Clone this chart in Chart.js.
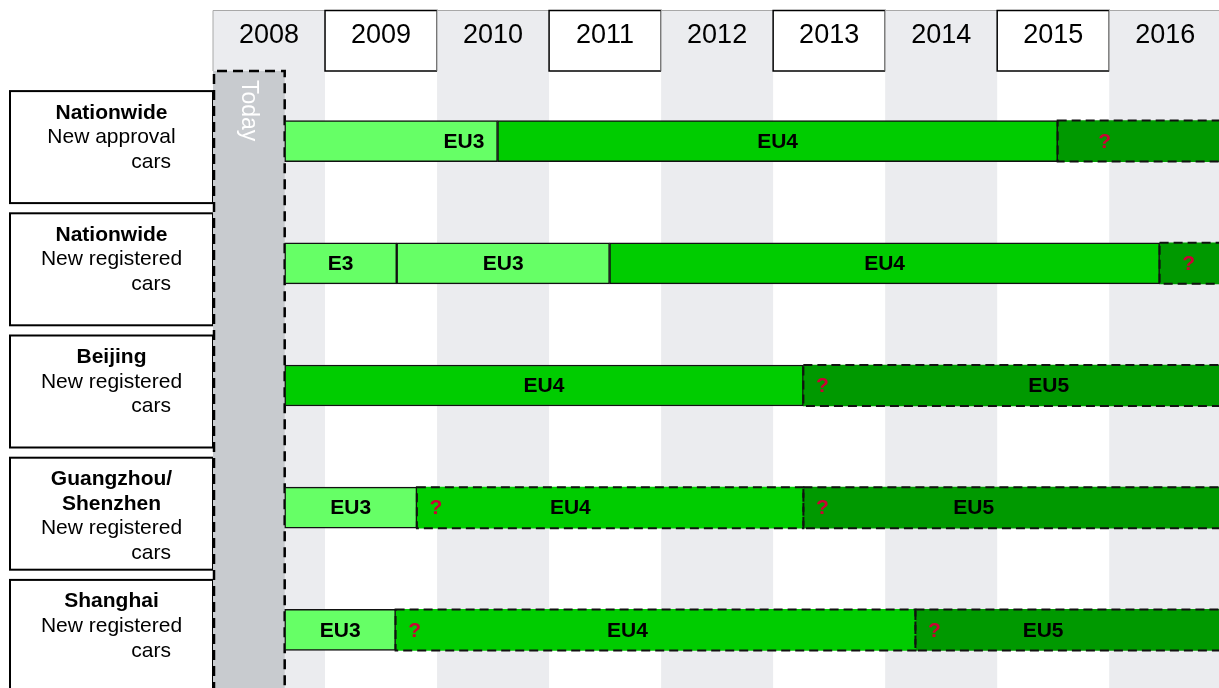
<!DOCTYPE html>
<html>
<head>
<meta charset="utf-8">
<title>Emission standards timeline</title>
<script src="https://cdn.jsdelivr.net/npm/chart.js@4.4.1/dist/chart.umd.min.js"></script>
<style>
  html, body { margin: 0; padding: 0; background: #fff; overflow: hidden; }
  canvas { display: block; }
</style>
</head>
<body>
<canvas id="timeline" width="1219" height="692"></canvas>
<script>
const years = ['2008', '2009', '2010', '2011', '2012', '2013', '2014', '2015', '2016']
const firstYear = 2008
const lastYear = 2016.98
const today = 2008.64

const rowTitles = [['Nationwide'], ['Nationwide'], ['Beijing'], ['Guangzhou/', 'Shenzhen'], ['Shanghai']]
const rowSubtitles = ['New approval', 'New registered', 'New registered', 'New registered', 'New registered']

// each phase = one segment per row: [start, end] in years
const phase1 = [[2008.64, 2010.54], [2008.64, 2009.64], [2008.64, 2013.27], [2008.64, 2009.82], [2008.64, 2009.63]]
const phase1Std = ['EU3', 'E3', 'EU4', 'EU3', 'EU3']
const phase1Open = [false, false, false, false, false]
const phase1At = [2010.24, null, null, null, null]

const phase2 = [[2010.54, 2015.54], [2009.64, 2011.54], [2013.27, 2017.7], [2009.82, 2013.27], [2009.63, 2014.27]]
const phase2Std = ['EU4', 'EU3', 'EU5', 'EU4', 'EU4']
const phase2Open = [false, false, true, true, true]
const phase2At = [null, null, 2015.46, 2011.19, 2011.70]

const phase3 = [[2015.54, 2017.7], [2011.54, 2016.45], null, [2013.27, 2017.7], [2014.27, 2017.7]]
const phase3Std = ['?', 'EU4', null, 'EU5', 'EU5']
const phase3Open = [true, false, false, true, true]
const phase3At = [2015.96, null, null, 2014.79, 2015.41]

const phase4 = [null, [2016.45, 2017.7], null, null, null]
const phase4Std = [null, '?', null, null, null]
const phase4Open = [false, true, false, false, false]
const phase4At = [null, 2016.71, null, null, null]

const phases = [
  { data: phase1, std: phase1Std, open: phase1Open, at: phase1At },
  { data: phase2, std: phase2Std, open: phase2Open, at: phase2At },
  { data: phase3, std: phase3Std, open: phase3Open, at: phase3At },
  { data: phase4, std: phase4Std, open: phase4Open, at: phase4At }
]

const FONT = '"Liberation Sans", Arial, sans-serif'
const STRIPE = '#ebecef'
const HEADER_TOP = 10
const HEADER_BOTTOM = 71

function stdColor(std) {
  if (std === 'EU3' || std === 'E3') return '#66ff66'
  if (std === 'EU4') return '#00cc00'
  return '#009900'
}

// grid, header, today column, row label boxes
const backdrop = {
  id: 'backdrop',
  beforeDatasetsDraw(chart) {
    const ctx = chart.ctx
    const x = chart.scales.x
    const y = chart.scales.y
    const H = chart.height
    ctx.save()
    ctx.fillStyle = '#fff'
    ctx.fillRect(0, 0, chart.width, H)

    years.forEach((label, i) => {
      const x0 = x.getPixelForValue(firstYear + i)
      const x1 = x.getPixelForValue(firstYear + i + 1)
      if (i % 2 === 0) {
        ctx.fillStyle = STRIPE
        ctx.fillRect(x0, HEADER_TOP, x1 - x0, H - HEADER_TOP)
        ctx.strokeStyle = '#a8a8a8'
        ctx.lineWidth = 1
        ctx.beginPath()
        ctx.moveTo(x0, HEADER_BOTTOM)
        ctx.lineTo(x0, HEADER_TOP + 0.5)
        ctx.lineTo(x1, HEADER_TOP + 0.5)
        ctx.stroke()
      } else {
        ctx.fillStyle = '#fff'
        ctx.fillRect(x0, HEADER_TOP, x1 - x0, HEADER_BOTTOM - HEADER_TOP)
        ctx.strokeStyle = '#000'
        ctx.lineWidth = 1.5
        ctx.strokeRect(x0, HEADER_TOP + 0.5, x1 - x0, HEADER_BOTTOM - HEADER_TOP - 0.5)
      }
      ctx.fillStyle = '#000'
      ctx.font = '27px ' + FONT
      ctx.textAlign = 'center'
      ctx.textBaseline = 'alphabetic'
      ctx.fillText(label, (x0 + x1) / 2, 43)
    })

    // row label boxes
    rowSubtitles.forEach((sub, i) => {
      const cy = y.getPixelForValue(i)
      const top = cy - 50
      ctx.fillStyle = '#fff'
      ctx.fillRect(10, top, 203, 112)
      ctx.strokeStyle = '#000'
      ctx.lineWidth = 2
      ctx.strokeRect(10, top, 203, 112)
      let base = top + 27.5
      ctx.fillStyle = '#000'
      ctx.textAlign = 'center'
      ctx.font = 'bold 21px ' + FONT
      rowTitles[i].forEach(t => {
        ctx.fillText(t, 111.5, base)
        base += 24.6
      })
      ctx.font = '21px ' + FONT
      ctx.fillText(sub, 111.5, base)
      base += 24.6
      ctx.textAlign = 'right'
      ctx.fillText('cars', 171, base)
    })

    // today column
    const tx0 = x.getPixelForValue(firstYear)
    const tx1 = x.getPixelForValue(today)
    ctx.fillStyle = '#c8cbcf'
    ctx.fillRect(tx0, HEADER_BOTTOM, tx1 - tx0, H - HEADER_BOTTOM)
    ctx.strokeStyle = '#000'
    ctx.lineWidth = 2.5
    ctx.setLineDash([10, 6])
    ctx.beginPath()
    ctx.moveTo(tx0 + 1, H)
    ctx.lineTo(tx0 + 1, HEADER_BOTTOM)
    ctx.lineTo(tx1, HEADER_BOTTOM)
    ctx.lineTo(tx1, H)
    ctx.stroke()
    ctx.setLineDash([])

    ctx.translate((tx0 + tx1) / 2 - 1, 80)
    ctx.rotate(Math.PI / 2)
    ctx.fillStyle = '#fff'
    ctx.font = '23px ' + FONT
    ctx.textAlign = 'left'
    ctx.textBaseline = 'middle'
    ctx.fillText('Today', 0, 0)
    ctx.restore()
  }
}

// dashed outlines for open-ended standards and the bar texts
const overlay = {
  id: 'overlay',
  afterDatasetsDraw(chart) {
    const ctx = chart.ctx
    const x = chart.scales.x
    ctx.save()
    chart.data.datasets.forEach((ds, di) => {
      const phase = phases[di]
      chart.getDatasetMeta(di).data.forEach((bar, i) => {
        if (!phase.data[i]) return
        const p = bar.getProps(['x', 'y', 'base', 'height'], true)
        const left = Math.min(p.x, p.base)
        const right = Math.max(p.x, p.base)
        const top = p.y - p.height / 2
        if (phase.open[i]) {
          ctx.strokeStyle = '#111'
          ctx.lineWidth = 2
          ctx.setLineDash([9, 5])
          ctx.strokeRect(left, top, right - left, p.height)
          ctx.setLineDash([])
        }
        ctx.textAlign = 'center'
        ctx.textBaseline = 'middle'
        ctx.font = 'bold 21px ' + FONT
        const std = phase.std[i]
        const tx = phase.at[i] != null ? x.getPixelForValue(phase.at[i]) : (left + right) / 2
        if (std === '?') {
          ctx.fillStyle = '#cc0033'
          ctx.fillText('?', tx, p.y + 1)
          return
        }
        if (phase.open[i]) {
          ctx.fillStyle = '#cc0033'
          ctx.fillText('?', left + 19, p.y + 1)
        }
        ctx.fillStyle = '#000'
        ctx.fillText(std, tx, p.y + 1)
      })
    })
    ctx.restore()
  }
}

new Chart(document.getElementById('timeline'), {
  type: 'bar',
  data: {
    labels: rowTitles.map((t, i) => t.join(' ') + ' ' + rowSubtitles[i] + ' cars'),
    datasets: phases.map((phase, di) => ({
      label: 'phase ' + (di + 1),
      data: phase.data,
      grouped: false,
      barThickness: 41,
      backgroundColor: c => stdColor(phase.std[c.dataIndex]),
      borderColor: '#111',
      borderWidth: c => phase.open[c.dataIndex] ? 0 : 1.5,
      borderSkipped: false
    }))
  },
  options: {
    indexAxis: 'y',
    responsive: false,
    animation: false,
    layout: { padding: { left: 213, top: 80, right: 0, bottom: 1 } },
    scales: {
      x: { type: 'linear', min: firstYear, max: lastYear, display: false },
      y: { display: false }
    },
    plugins: {
      legend: { display: false },
      tooltip: { enabled: false }
    }
  },
  plugins: [backdrop, overlay]
})
</script>
</body>
</html>
